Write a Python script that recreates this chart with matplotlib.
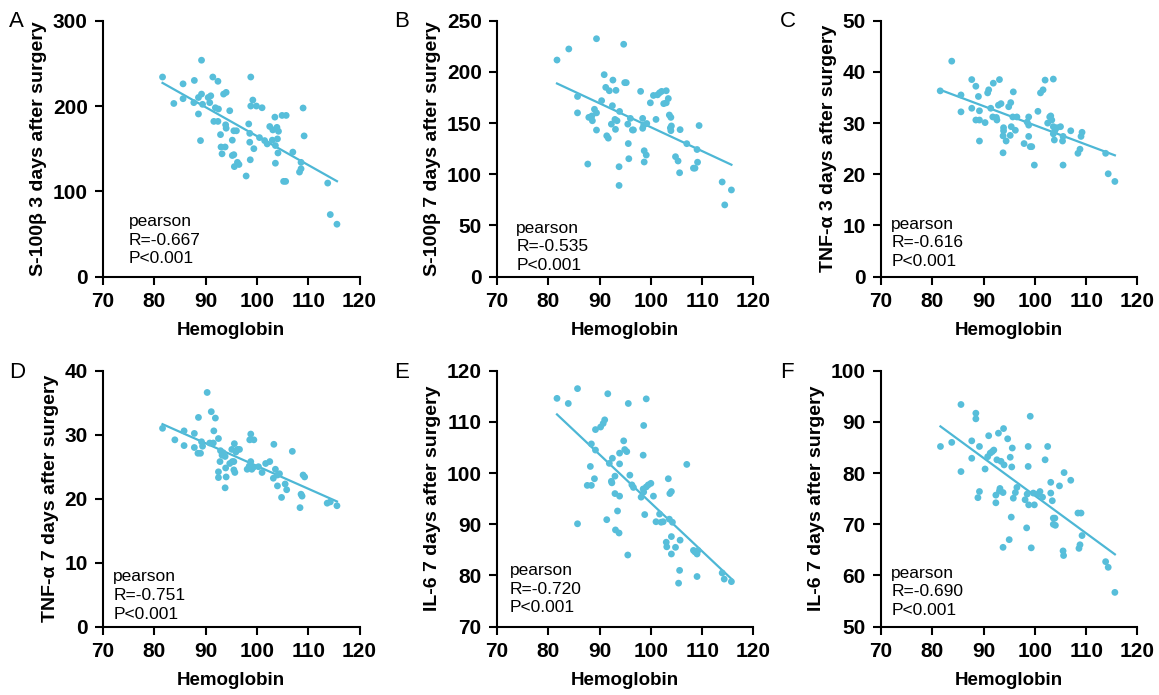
import matplotlib
matplotlib.use("Agg")
import matplotlib.pyplot as plt
import numpy as np

plt.rcParams['font.family'] = ['Liberation Sans', 'DejaVu Sans']

# hemoglobin (x) and marker (y) values
a_x = [81.6, 83.8, 85.6, 85.6, 87.8, 87.7, 88.6, 88.6, 89.2, 89.2, 89.0, 89.4, 90.5, 91.0, 90.8,
       91.4, 92.4, 91.9, 92.5, 91.6, 92.4, 93.5, 94.0, 92.9, 93.0, 93.8, 93.2, 93.9, 94.0, 94.7,
       95.2, 95.5, 96.0, 95.2, 95.5, 95.6, 96.2, 96.5, 97.9, 98.4, 98.6, 98.6, 98.7, 98.8, 98.8,
       99.2, 99.4, 99.9, 101.0, 100.5, 101.5, 102.0, 102.5, 103.0, 103.1, 103.5, 103.9, 104.0, 104.2, 103.6,
       103.6, 104.1, 104.9, 105.7, 105.2, 105.6, 107.0, 108.6, 108.3, 108.6, 109.0, 109.2, 113.8, 114.3, 115.6]
a_y = [234, 203, 226, 208.6, 230, 204, 210, 190.7, 253.7, 214, 159.5, 202, 210, 212, 204,
       234, 229, 198, 196.5, 182, 182, 214, 216, 166.5, 152, 152, 144, 178, 174, 194.5,
       160, 171, 171, 142, 143, 129, 134, 131.5, 118, 179, 168, 157.6, 137, 234, 200,
       207, 150, 200, 198, 163, 159.5, 155.6, 176, 160, 172, 187, 175, 161.5, 170.4, 153.7,
       133, 145, 189, 189, 111.7, 111.7, 146, 134, 122.6, 126.5, 197.7, 165, 109.7, 72.8, 61.5]

b_x = [81.7, 84.0, 89.4, 94.7, 85.7, 85.7, 87.7, 87.9, 88.5, 88.6, 89.0, 89.4, 89.4, 90.4, 90.9,
       91.2, 91.4, 91.7, 91.9, 92.3, 92.5, 92.6, 93.0, 93.1, 93.2, 93.4, 93.8, 93.8, 93.9, 94.9,
       95.2, 95.5, 95.6, 95.7, 96.0, 96.4, 96.6, 98.0, 98.4, 98.4, 98.6, 98.7, 99.1, 98.7, 99.2,
       99.9, 100.5, 101.0, 101.3, 101.7, 102.1, 103.0, 102.5, 103.0, 103.4, 103.6, 103.9, 103.8, 104.0, 103.9,
       104.8, 105.3, 105.6, 105.7, 107.0, 108.3, 108.6, 109.0, 109.1, 109.4, 113.9, 114.4, 115.7]
b_y = [211.6, 222.4, 232.4, 227, 176, 160, 110, 155.6, 157, 152.3, 163.5, 160, 143.2, 171.9, 197.3,
       184.9, 137.6, 135.3, 181.6, 149, 167, 192, 153.6, 143.9, 182, 152.3, 107.4, 89.1, 161.4, 189.5,
       189.5, 149, 130, 115.2, 154.6, 143.3, 143.3, 181, 154.6, 144.9, 148, 123, 118.8, 112, 149.6,
       169.8, 177, 153.6, 177.6, 179.6, 181, 181.6, 169, 169.8, 174, 157.9, 155.6, 145.3, 147.2, 142.6,
       117.2, 113, 101.5, 143.6, 129.9, 106, 106, 124.2, 111.8, 147.6, 92.5, 70.1, 84.7]

c_x = [81.55, 83.8, 85.6, 85.6, 87.7, 87.7, 88.5, 89.0, 88.5, 89.2, 89.2, 89.2, 90.3, 90.8, 91.0,
       91.9, 93.1, 91.4, 91.8, 92.5, 92.6, 92.9, 93.4, 93.9, 93.9, 93.8, 94.4, 93.8, 94.9, 95.3,
       95.4, 95.2, 95.8, 95.7, 96.2, 96.5, 97.9, 98.8, 98.8, 98.5, 99.1, 99.4, 98.8, 99.9, 100.6,
       101.1, 101.6, 102.0, 103.6, 102.5, 102.9, 103.3, 103.1, 103.6, 103.9, 104.3, 103.6, 103.8, 105.0, 105.5,
       105.4, 105.5, 107.0, 108.4, 108.8, 109.0, 109.2, 113.8, 114.3, 115.6]
c_y = [36.3, 42.1, 35.5, 32.2, 38.5, 32.9, 37.2, 35.2, 30.6, 30.6, 32.4, 26.5, 30.1, 35.9, 36.5,
       37.8, 38.5, 32.9, 31.2, 31.1, 30.6, 33.5, 33.8, 29.1, 28.5, 27.5, 26.5, 24.2, 33.2, 34.0,
       29.3, 27.6, 36.1, 31.2, 28.6, 31.2, 26.0, 29.6, 31.2, 30.2, 25.4, 25.4, 27.4, 21.8, 32.3,
       35.9, 36.5, 38.4, 38.6, 30.0, 31.2, 30.6, 31.4, 29.3, 28.5, 29.1, 27.9, 26.7, 29.3, 27.4,
       26.5, 21.8, 28.5, 24.1, 24.9, 27.4, 28.2, 24.1, 20.1, 18.6]

d_x = [81.6, 84.0, 85.8, 85.8, 87.8, 87.8, 88.6, 88.5, 89.0, 89.2, 89.4, 90.3, 91.1, 91.9, 91.6,
       90.8, 91.5, 92.5, 92.9, 93.2, 93.4, 93.8, 92.8, 93.9, 92.5, 92.5, 94.0, 93.8, 94.7, 95.2,
       95.5, 95.5, 95.7, 95.1, 95.6, 95.9, 96.2, 96.6, 98.8, 98.6, 99.4, 98.8, 98.5, 98.1, 99.0,
       99.3, 100.3, 101.0, 101.7, 102.5, 103.3, 103.6, 104.0, 103.2, 104.4, 104.0, 105.5, 105.8, 104.8, 106.9,
       108.4, 108.6, 108.8, 109.0, 109.3, 113.7, 114.3, 115.6]
d_y = [31.0, 29.2, 30.6, 28.3, 30.2, 28.0, 32.7, 27.1, 27.1, 28.9, 28.2, 36.6, 33.6, 32.6, 30.6,
       28.7, 28.7, 29.4, 27.5, 26.8, 27.2, 26.6, 25.8, 24.8, 24.2, 23.3, 23.4, 21.7, 25.5, 25.8,
       25.8, 24.5, 24.1, 27.7, 28.6, 27.3, 27.7, 27.7, 30.1, 29.2, 29.2, 25.8, 25.1, 24.6, 24.6,
       24.9, 25.0, 24.1, 25.5, 25.8, 28.5, 24.6, 23.7, 23.2, 23.9, 22.0, 22.3, 21.4, 20.2, 27.4,
       18.6, 20.7, 20.4, 23.7, 23.4, 19.3, 19.5, 18.9]

e_x = [81.7, 83.9, 85.7, 91.6, 95.6, 99.1, 91.0, 90.7, 89.2, 90.2, 98.6, 94.7, 88.4, 89.2, 94.9,
       95.3, 93.9, 92.5, 93.9, 98.5, 91.9, 88.2, 93.0, 95.9, 89.0, 92.3, 92.4, 87.6, 88.4, 96.3,
       96.6, 93.0, 93.9, 98.5, 99.1, 99.5, 100.0, 98.1, 100.5, 98.6, 93.5, 98.8, 101.7, 101.0, 102.0,
       102.4, 103.6, 104.2, 103.4, 103.7, 104.0, 107.0, 91.4, 93.1, 93.8, 85.7, 95.5, 103.0, 104.0, 105.7,
       103.1, 104.8, 104.0, 108.3, 108.6, 109.0, 109.2, 105.6, 105.4, 109.0, 113.9, 114.3, 115.7]
e_y = [114.6, 113.6, 116.5, 115.5, 113.6, 114.5, 110.4, 109.7, 108.5, 109.0, 109.3, 106.3, 105.7, 104.5, 104.6,
       104.2, 103.9, 102.9, 101.8, 103.5, 101.9, 101.3, 99.4, 99.6, 98.9, 98.4, 98.1, 97.6, 97.6, 97.7,
       97.2, 96.0, 95.5, 96.9, 97.3, 97.7, 98.0, 95.3, 95.5, 96.3, 92.6, 91.9, 92.0, 90.5, 90.4,
       90.5, 91.0, 90.4, 98.9, 96.0, 96.4, 101.7, 90.9, 88.9, 88.3, 90.1, 84.0, 86.5, 87.6, 86.9,
       85.6, 85.5, 84.2, 84.9, 84.6, 84.2, 84.9, 81.0, 78.5, 79.8, 80.5, 79.3, 78.8]

f_x = [81.6, 83.8, 85.6, 85.6, 87.7, 87.7, 88.5, 88.5, 89.2, 88.9, 89.2, 90.3, 91.0, 90.8, 91.3,
       91.7, 92.0, 92.4, 92.4, 92.6, 92.9, 93.2, 93.1, 93.4, 93.8, 93.9, 94.0, 94.7, 95.2, 95.6,
       95.5, 95.8, 96.2, 96.5, 95.4, 95.0, 93.8, 98.7, 98.7, 99.1, 98.1, 98.5, 98.8, 99.9, 99.7,
       100.6, 101.0, 101.5, 98.4, 99.3, 102.0, 102.5, 103.1, 103.1, 103.4, 103.6, 103.9, 103.6, 104.0, 104.8,
       105.7, 107.0, 105.5, 105.6, 108.4, 109.0, 109.2, 108.8, 108.6, 113.8, 114.3, 115.6]
f_y = [85.2, 86.0, 93.4, 80.3, 86.3, 82.9, 91.7, 90.6, 85.2, 75.2, 76.4, 80.8, 87.3, 83.2, 83.9,
       84.2, 84.5, 74.2, 75.7, 82.6, 87.8, 77.0, 76.5, 82.3, 76.2, 88.7, 81.6, 86.7, 83.1, 84.9,
       81.2, 75.1, 76.2, 77.2, 71.4, 67.0, 65.5, 85.2, 81.3, 91.1, 74.8, 75.9, 73.8, 73.8, 76.1,
       75.9, 76.4, 75.3, 69.3, 65.4, 82.6, 85.2, 78.2, 76.1, 74.6, 71.2, 71.2, 70.0, 69.8, 77.5,
       80.1, 78.6, 64.8, 63.9, 72.2, 72.2, 67.8, 66.0, 65.3, 62.7, 61.6, 56.7]

panel_letters = ["A", "B", "C", "D", "E", "F"]
y_labels = ["S-100β 3 days after surgery", "S-100β 7 days after surgery",
            "TNF-α 3 days after surgery", "TNF-α 7 days after surgery",
            "IL-6 7 days after surgery", "IL-6 7 days after surgery"]
y_limits = [(0, 300, 100), (0, 250, 50), (0, 50, 10), (0, 40, 10), (70, 120, 10), (50, 100, 10)]
r_values = ["-0.667", "-0.535", "-0.616", "-0.751", "-0.720", "-0.690"]

dot_color = '#57BEDA'
line_color = '#4DB7D5'


def plot_panel(ax, hb, marker, ylabel, ylim, r_text, text_pos):
    hb = np.array(hb)
    marker = np.array(marker)

    ax.scatter(hb, marker, s=24, c=dot_color, edgecolors='none', zorder=3)

    # least squares line over the observed range
    slope, intercept = np.polyfit(hb, marker, 1)
    line_x = np.array([hb.min(), hb.max()])
    ax.plot(line_x, slope * line_x + intercept, c=line_color, lw=1.6, zorder=2)

    ax.set_xlim(70, 120)
    ax.set_xticks(np.arange(70, 121, 10))
    ax.set_ylim(ylim[0], ylim[1])
    ax.set_yticks(np.arange(ylim[0], ylim[1] + 1, ylim[2]))

    for side in ['top', 'right']:
        ax.spines[side].set_visible(False)
    for side in ['left', 'bottom']:
        ax.spines[side].set_linewidth(1.5)
    ax.tick_params(width=1.5, length=6, pad=5, labelsize=15)
    for lab in ax.get_xticklabels() + ax.get_yticklabels():
        lab.set_fontweight('bold')

    ax.set_xlabel("Hemoglobin", fontsize=13.5, fontweight='bold', labelpad=8)
    ax.set_ylabel(ylabel, fontsize=14, fontweight='bold', labelpad=4)

    ax.text(text_pos[0], text_pos[1], "pearson\nR=" + r_text + "\nP<0.001",
            transform=ax.transAxes, ha='left', va='bottom', fontsize=12.5, linespacing=1.3)


def main():
    fig = plt.figure(figsize=(11.59, 6.95), dpi=100)

    lefts = [0.0889, 0.4288, 0.7601]
    bottoms = [0.6019, 0.0983]
    width = 0.2213
    height = 0.3683

    panels = [(a_x, a_y), (b_x, b_y), (c_x, c_y), (d_x, d_y), (e_x, e_y), (f_x, f_y)]
    text_spots = [(0.10, 0.04), (0.075, 0.015), (0.04, 0.03), (0.04, 0.02), (0.05, 0.045), (0.04, 0.035)]
    letter_x = [9, 394, 780]
    letter_y = [11, 362]

    for i, (hb, marker) in enumerate(panels):
        row = i // 3
        col = i % 3
        ax = fig.add_axes([lefts[col], bottoms[row], width, height])
        plot_panel(ax, hb, marker, y_labels[i], y_limits[i], r_values[i], text_spots[i])
        fig.text(letter_x[col] / 1159, 1 - letter_y[row] / 695, panel_letters[i],
                 fontsize=16, ha='left', va='top')

    fig.savefig("out.png", dpi=100)


if __name__ == "__main__":
    main()
